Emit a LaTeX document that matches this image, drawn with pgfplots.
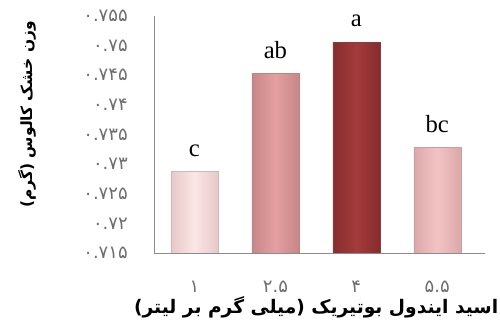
\documentclass[border=0pt]{standalone}
\usepackage{pgfplots}
\pgfplotsset{compat=1.18}
\usepackage{fontspec}
\setmainfont{Liberation Serif}
\newfontfamily\arabicfont[Script=Arabic]{DejaVu Sans}
\TeXXeTstate=1

\definecolor{axisgray}{HTML}{8C8C8C}
\definecolor{tickgray}{HTML}{6E6E6E}
% bar colours: centre / edge of each horizontal gradient
\definecolor{oneMid}{HTML}{FCE6E6}
\definecolor{oneEdge}{HTML}{E6C8C8}
\definecolor{twoMid}{HTML}{E4A0A0}
\definecolor{twoEdge}{HTML}{C88686}
\definecolor{threeMid}{HTML}{A33B3B}
\definecolor{threeEdge}{HTML}{872C2C}
\definecolor{fourMid}{HTML}{F3C3C3}
\definecolor{fourEdge}{HTML}{DBA8A8}

\begin{document}
\begin{tikzpicture}
\useasboundingbox (-115.5pt,-52.5pt) rectangle (259.5pt,189.75pt);
\begin{axis}[
  at={(0,0)}, anchor=south west,
  scale only axis,
  width=248.25pt, height=177.75pt,
  xmin=-0.5, xmax=3.59,
  ymin=0.715, ymax=0.755,
  axis x line*=bottom, axis y line*=left,
  axis line style={draw=axisgray, line width=0.6pt, -},
  major tick length=0pt,
  xtick={0,1,2,3},
  xticklabels={{\arabicfont ۱},{\arabicfont ۲.۵},{\arabicfont ۴},{\arabicfont ۵.۵}},
  ytick={0.715,0.72,0.725,0.73,0.735,0.74,0.745,0.75,0.755},
  yticklabels={{\arabicfont ۰.۷۱۵},{\arabicfont ۰.۷۲},{\arabicfont ۰.۷۲۵},{\arabicfont ۰.۷۳},{\arabicfont ۰.۷۳۵},{\arabicfont ۰.۷۴},{\arabicfont ۰.۷۴۵},{\arabicfont ۰.۷۵},{\arabicfont ۰.۷۵۵}},
  every x tick label/.append style={anchor=center, yshift=-25.5pt, font=\fontsize{13.5}{13.5}\selectfont, text=tickgray},
  every y tick label/.append style={anchor=east, inner sep=0pt, xshift=-19.5pt, font=\fontsize{13.5}{13.5}\selectfont, text=tickgray},
  xlabel={\arabicfont\bfseries\beginR اسید ایندول بوتیریک (میلی گرم بر لیتر)\endR},
  xlabel style={at={(axis description cs:0.49,-0.23)}, anchor=center, font=\fontsize{14}{14}\selectfont},
  ylabel={\arabicfont\bfseries\beginR وزن خشک کالوس (گرم)\endR},
  ylabel style={at={(axis description cs:-0.384,0.585)}, anchor=center, rotate=0, font=\fontsize{11.6}{11.6}\selectfont},
  ybar, bar width=35.25pt, bar shift=0pt,
  point meta=explicit symbolic,
  nodes near coords,
  nodes near coords style={font=\fontsize{18.5}{18.5}\selectfont, anchor=south, inner sep=0pt, yshift=11pt, text=black},
]
\addplot[draw=oneEdge!80!gray, line width=0.3pt, left color=oneEdge, right color=oneEdge, middle color=oneMid]
  coordinates {(0,0.7288) [c]};
\addplot[draw=twoEdge!80!gray, line width=0.3pt, left color=twoEdge, right color=twoEdge, middle color=twoMid]
  coordinates {(1,0.7453) [ab]};
\addplot[draw=threeEdge!80!gray, line width=0.3pt, left color=threeEdge, right color=threeEdge, middle color=threeMid]
  coordinates {(2,0.7506) [a]};
\addplot[draw=fourEdge!80!gray, line width=0.3pt, left color=fourEdge, right color=fourEdge, middle color=fourMid]
  coordinates {(3,0.7328) [bc]};
\end{axis}
\end{tikzpicture}
\end{document}
